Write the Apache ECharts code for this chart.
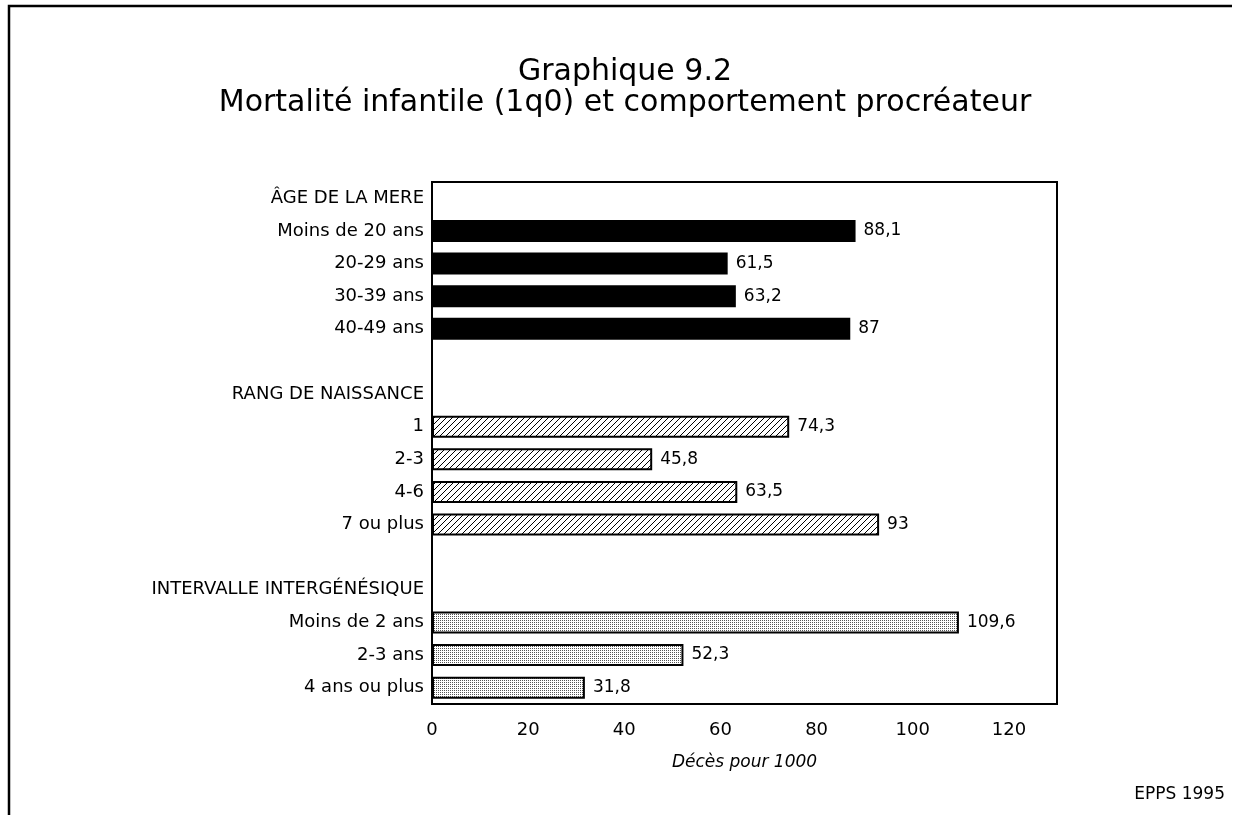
<!DOCTYPE html>
<html>
<head>
<meta charset="utf-8">
<title>Graphique 9.2</title>
<script src="https://cdn.jsdelivr.net/npm/echarts@6.0.0/dist/echarts.min.js"></script>
<style>
    html, body { margin: 0; padding: 0; background: #fff; }
    #chart { width: 1250px; height: 815px; }
</style>
</head>
<body>
<div id="chart"></div>
<script>
// titres des groupes
const groupTitles = ["ÂGE DE LA MERE", "RANG DE NAISSANCE", "INTERVALLE INTERGÉNÉSIQUE"];
// âge de la mère
const ageLabels = ["Moins de 20 ans", "20-29 ans", "30-39 ans", "40-49 ans"];
const ageValues = [88.1, 61.5, 63.2, 87];
// rang de naissance
const rangLabels = ["1", "2-3", "4-6", "7 ou plus"];
const rangValues = [74.3, 45.8, 63.5, 93];
// intervalle intergénésique
const intervalLabels = ["Moins de 2 ans", "2-3 ans", "4 ans ou plus"];
const intervalValues = [109.6, 52.3, 31.8];
// axe horizontal
const xMin = 0;
const xMax = 130;
const xStep = 20;
const xLastLabel = 120;

const FONT = "DejaVu Sans";

// motifs de remplissage
function makeHatch() {
    const n = 6;
    const c = document.createElement("canvas");
    c.width = n;
    c.height = n;
    const ctx = c.getContext("2d");
    ctx.fillStyle = "#fff";
    ctx.fillRect(0, 0, n, n);
    ctx.fillStyle = "#000";
    for (let i = 0; i < n; i++) {
        ctx.fillRect(i, n - 1 - i, 1, 1);
    }
    return c;
}

function makeDots() {
    const c = document.createElement("canvas");
    c.width = 2;
    c.height = 2;
    const ctx = c.getContext("2d");
    ctx.fillStyle = "#fff";
    ctx.fillRect(0, 0, 2, 2);
    ctx.fillStyle = "#555";
    ctx.fillRect(0, 0, 1, 1);
    return c;
}

const groups = [
    {title: groupTitles[0], labels: ageLabels, values: ageValues},
    {title: groupTitles[1], labels: rangLabels, values: rangValues},
    {title: groupTitles[2], labels: intervalLabels, values: intervalValues}
];

// lignes de l'axe vertical : titre, catégories, ligne vide
let categories = [];
let starts = [];
groups.forEach((g, gi) => {
    if (gi > 0) {
        categories.push(" ".repeat(gi));
    }
    categories.push(g.title);
    starts.push(categories.length);
    g.labels.forEach(l => categories.push(l));
});

function padded(gi) {
    let arr = categories.map(() => "-");
    groups[gi].values.forEach((v, i) => {
        arr[starts[gi] + i] = v;
    });
    return arr;
}

const fills = [
    {color: "#000", borderWidth: 0},
    {color: {image: makeHatch(), repeat: "repeat"}, borderColor: "#000", borderWidth: 2},
    {color: {image: makeDots(), repeat: "repeat"}, borderColor: "#000", borderWidth: 2}
];

let series = groups.map((g, gi) => ({
    name: g.title,
    type: "bar",
    barWidth: 22,
    barGap: "-100%",
    data: padded(gi),
    itemStyle: fills[gi],
    label: {
        show: true,
        position: "right",
        distance: 8,
        color: "#000",
        fontFamily: FONT,
        fontSize: 17,
        formatter: p => String(p.value).replace(".", ",")
    },
    animation: false
}));

let option = {
    backgroundColor: "#fff",
    animation: false,
    title: [
        {
            text: "Graphique 9.2\nMortalité infantile (1q0) et comportement procréateur",
            left: "center",
            top: 52,
            textStyle: {
                fontFamily: FONT,
                fontSize: 30,
                fontWeight: "normal",
                color: "#000",
                lineHeight: 31
            }
        },
        {
            text: "EPPS 1995",
            right: 20,
            top: 781,
            textStyle: {
                fontFamily: FONT,
                fontSize: 17,
                fontWeight: "normal",
                color: "#000"
            }
        }
    ],
    grid: {
        left: 432,
        top: 182,
        right: 193,
        bottom: 111,
        show: true,
        borderColor: "#000",
        borderWidth: 2,
        containLabel: false
    },
    xAxis: {
        type: "value",
        min: xMin,
        max: xMax,
        interval: xStep,
        name: "Décès pour 1000",
        nameLocation: "middle",
        nameGap: 50,
        nameTextStyle: {
            fontFamily: FONT,
            fontSize: 17,
            fontStyle: "italic",
            color: "#000"
        },
        axisLine: {show: true, lineStyle: {color: "#000", width: 2}},
        axisTick: {show: false},
        splitLine: {show: false},
        axisLabel: {
            margin: 17,
            color: "#000",
            fontFamily: FONT,
            fontSize: 18,
            formatter: v => (v > xLastLabel ? "" : String(v))
        }
    },
    yAxis: {
        type: "category",
        inverse: true,
        data: categories,
        axisLine: {show: true, lineStyle: {color: "#000", width: 2}},
        axisTick: {show: false},
        splitLine: {show: false},
        axisLabel: {
            margin: 8,
            interval: 0,
            color: "#000",
            fontFamily: FONT,
            fontSize: 18
        }
    },
    graphic: [
        // cadre de la page
        {
            type: "polyline",
            shape: {points: [[9, 815], [9, 6], [1232, 6]]},
            style: {stroke: "#000", lineWidth: 2.5, fill: null},
            silent: true
        }
    ],
    series: series
};

let chart = echarts.init(document.getElementById("chart"), null, {renderer: "canvas"});
chart.setOption(option);
window.addEventListener("resize", () => chart.resize());
</script>
</body>
</html>
